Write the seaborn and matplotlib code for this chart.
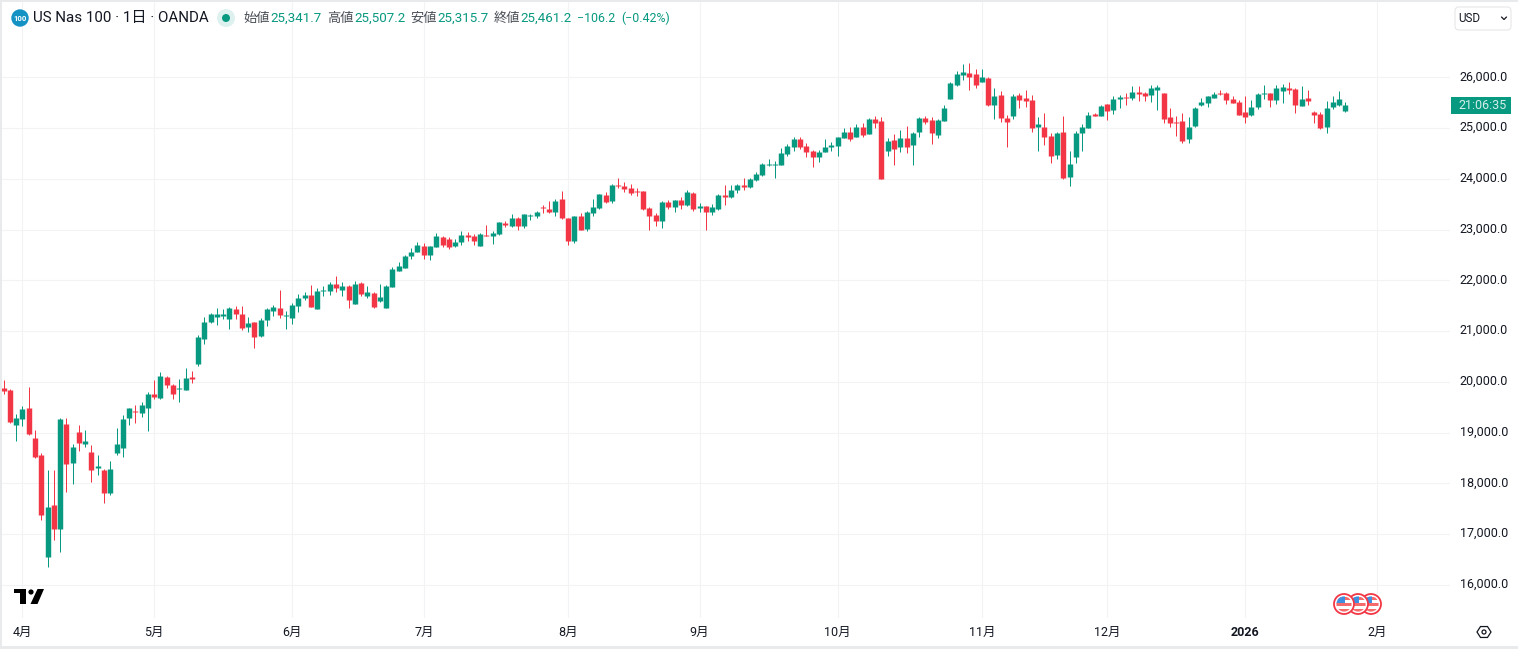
import matplotlib
matplotlib.use("Agg")
import matplotlib.pyplot as plt
from matplotlib.patches import Circle, FancyBboxPatch, Polygon, Rectangle
from matplotlib.transforms import ScaledTranslation
import numpy as np
import pandas as pd
import seaborn as sns

# candles, oldest first
opens = [
    19889, 19849, 19143, 19261, 19477, 18888, 18555, 16555, 17575, 17104,
    19163, 18398, 19006, 18771, 18614, 18300, 18261, 17810, 18594, 18692,
    19281, 19418, 19379, 19496, 19771, 19692, 20104, 19947, 19869, 19849,
    20104, 20359, 20849, 21183, 21281, 21300, 21241, 21437, 21339, 21085,
    21183, 20896, 21210, 21406, 21464, 21308, 21268, 21504, 21661, 21719,
    21445, 21798, 21798, 21935, 21817, 21896, 21543, 21955, 21700, 21759,
    21602, 21464, 21876, 22190, 22249, 22484, 22563, 22680, 22504, 22661,
    22857, 22817, 22673, 22752, 22889, 22869, 22673, 22889, 22869, 22908,
    23124, 23065, 23222, 23065, 23275, 23261, 23438, 23399, 23340, 23595,
    23222, 22771, 23261, 23007, 23320, 23418, 23673, 23556, 23869, 23850,
    23810, 23752, 23752, 23418, 23281, 23163, 23536, 23438, 23575, 23477,
    23712, 23418, 23458, 23340, 23399, 23673, 23634, 23771, 23888, 23830,
    23986, 24084, 24281, 24281, 24281, 24496, 24634, 24790, 24653, 24555,
    24437, 24535, 24634, 24653, 24810, 24928, 24830, 25026, 24888, 25183,
    25143, 24555, 24771, 24634, 24810, 24673, 24928, 25202, 25163, 24869,
    25144, 25575, 25850, 26046, 26085, 26065, 25909, 25987, 25458, 25654,
    25203, 25242, 25654, 25595, 25556, 25026, 25026, 24850, 24477, 24928,
    24046, 24438, 24909, 25007, 25281, 25242, 25477, 25360, 25575, 25614,
    25595, 25713, 25693, 25654, 25752, 25693, 25222, 25124, 25144, 24791,
    25046, 25458, 25497, 25595, 25693, 25693, 25575, 25517, 25320, 25262,
    25418, 25673, 25693, 25556, 25732, 25791, 25771, 25438, 25595, 25320,
    25281, 25026, 25418, 25458, 25341.7,
]
closes = [
    19830, 19202, 19281, 19457, 18967, 18516, 17379, 17536, 17104, 19261,
    18379, 18712, 18790, 18830, 18261, 18339, 17810, 18281, 18771, 19261,
    19477, 19398, 19536, 19771, 19712, 20124, 19947, 19771, 19889, 20085,
    20065, 20889, 21183, 21339, 21339, 21339, 21457, 21339, 21065, 21163,
    20889, 21229, 21445, 21484, 21327, 21327, 21523, 21661, 21719, 21484,
    21798, 21817, 21935, 21857, 21896, 21621, 21935, 21739, 21778, 21484,
    21680, 21896, 22229, 22288, 22484, 22563, 22700, 22504, 22680, 22876,
    22700, 22661, 22752, 22889, 22850, 22771, 22908, 22869, 22928, 23144,
    23085, 23222, 23065, 23301, 23290, 23340, 23418, 23340, 23556, 23222,
    22771, 23261, 22987, 23340, 23438, 23693, 23536, 23869, 23850, 23791,
    23712, 23732, 23399, 23261, 23163, 23536, 23438, 23575, 23477, 23732,
    23399, 23458, 23340, 23438, 23673, 23634, 23771, 23869, 23830, 24006,
    24104, 24300, 24300, 24300, 24516, 24653, 24790, 24634, 24535, 24437,
    24535, 24634, 24673, 24830, 24928, 24790, 25026, 24869, 25183, 25104,
    24006, 24751, 24594, 24810, 24634, 24908, 25202, 25124, 24908, 25163,
    25399, 25889, 26065, 26105, 26007, 25850, 26007, 25458, 25634, 25203,
    25124, 25634, 25556, 25536, 25007, 25085, 24830, 24458, 24909, 24007,
    24301, 24909, 25026, 25261, 25242, 25438, 25340, 25575, 25614, 25595,
    25713, 25673, 25634, 25791, 25811, 25183, 25105, 25105, 24752, 25026,
    25399, 25517, 25634, 25673, 25673, 25556, 25497, 25262, 25222, 25418,
    25673, 25693, 25556, 25791, 25811, 25752, 25458, 25575, 25536, 25262,
    25007, 25399, 25517, 25575, 25461.2,
]
highs = [
    20045, 19860, 19359, 19516, 19908, 19045, 18594, 18261, 18261, 19281,
    19281, 18771, 19143, 19045, 18751, 18555, 18281, 18438, 19085, 19339,
    19496, 19536, 19614, 19810, 20045, 20202, 20124, 19967, 20065, 20281,
    20222, 20928, 21281, 21359, 21457, 21437, 21477, 21496, 21496, 21281,
    21190, 21268, 21450, 21523, 21817, 21406, 21562, 21739, 21778, 21915,
    21857, 21896, 21974, 22092, 21974, 21900, 21994, 21960, 21896, 21778,
    21935, 21915, 22268, 22366, 22504, 22641, 22759, 22739, 22685, 22935,
    22876, 22857, 22810, 22967, 22948, 22908, 22928, 23085, 22967, 23150,
    23163, 23301, 23242, 23305, 23301, 23359, 23477, 23556, 23595, 23752,
    23225, 23265, 23320, 23359, 23595, 23697, 23732, 23889, 24007, 23928,
    23889, 23810, 23755, 23438, 23320, 23556, 23575, 23578, 23634, 23771,
    23732, 23516, 23460, 23497, 23693, 23869, 23869, 23908, 24026, 24026,
    24143, 24320, 24398, 24359, 24614, 24692, 24830, 24830, 24712, 24575,
    24575, 24790, 24732, 24833, 25006, 25026, 25084, 25104, 25202, 25241,
    25222, 24810, 24888, 24967, 25045, 24928, 25222, 25241, 25222, 25183,
    25458, 25909, 26124, 26261, 26281, 26163, 26163, 26007, 25791, 25732,
    25261, 25673, 25693, 25752, 25654, 25222, 25301, 24909, 24928, 25242,
    24556, 24948, 25085, 25320, 25301, 25458, 25480, 25634, 25654, 25693,
    25830, 25830, 25713, 25850, 25850, 25695, 25399, 25242, 25301, 25222,
    25418, 25595, 25637, 25713, 25752, 25713, 25634, 25556, 25634, 25556,
    25693, 25850, 25695, 25850, 25869, 25909, 25791, 25830, 25752, 25340,
    25320, 25536, 25634, 25732, 25507.2,
]
lows = [
    19771, 19190, 18830, 19124, 18947, 18496, 17281, 16359, 16889, 16653,
    17830, 17987, 18634, 18712, 18026, 18163, 17614, 17771, 18555, 18516,
    19143, 19183, 19300, 19026, 19673, 19673, 19889, 19673, 19614, 19849,
    19987, 20320, 20751, 21163, 21124, 21241, 21045, 21241, 21026, 20987,
    20673, 20890, 21092, 21308, 21268, 21033, 21131, 21386, 21621, 21484,
    21440, 21700, 21719, 21778, 21700, 21464, 21540, 21700, 21661, 21464,
    21582, 21460, 21870, 22185, 22245, 22425, 22560, 22425, 22406, 22655,
    22661, 22621, 22654, 22693, 22771, 22693, 22673, 22865, 22712, 22889,
    23046, 23060, 22987, 23026, 23183, 23222, 23320, 23320, 23261, 23203,
    22693, 22732, 22985, 22967, 23261, 23415, 23516, 23516, 23810, 23732,
    23673, 23654, 23379, 22987, 23065, 23026, 23399, 23340, 23399, 23458,
    23359, 23340, 22987, 23281, 23395, 23477, 23630, 23712, 23771, 23828,
    23967, 24065, 24261, 24026, 24278, 24457, 24555, 24594, 24437, 24241,
    24339, 24532, 24555, 24457, 24808, 24751, 24828, 24830, 24885, 25006,
    24003, 24457, 24281, 24535, 24516, 24281, 24830, 25084, 24692, 24810,
    25140, 25572, 25830, 25948, 25752, 25791, 25905, 25438, 25183, 25124,
    24634, 25183, 25399, 25418, 24928, 24556, 24673, 24320, 24399, 24004,
    23850, 24320, 24556, 25004, 25240, 25240, 25164, 25281, 25399, 25458,
    25556, 25536, 25536, 25516, 25360, 25105, 25026, 24850, 24713, 24713,
    25026, 25438, 25418, 25592, 25654, 25477, 25495, 25260, 25105, 25242,
    25379, 25575, 25418, 25477, 25497, 25673, 25301, 25435, 25458, 25105,
    24987, 24909, 25379, 25438, 25315.7,
]

# trading calendar, runs a little past the last candle for the 2月 tick
first_day = "2025-03-27"
last_day = "2026-02-02"
closed_days = ["2025-04-18", "2025-12-25", "2026-01-01"]

month_labels = ["4月", "5月", "6月", "7月", "8月", "9月", "10月", "11月", "12月", "2026", "2月"]
price_ticks = [16000, 17000, 18000, 19000, 20000, 21000, 22000, 23000, 24000, 25000, 26000]

symbol = "US Nas 100 · 1日 · OANDA"
ohlc_names = ["始値", "高値", "安値", "終値"]
ohlc_values = ["25,341.7", "25,507.2", "25,315.7", "25,461.2"]
change = "−106.2"
change_pct = "(−0.42%)"
countdown = "21:06:35"

UP = "#089981"
DOWN = "#F23645"
GRID = "#F2F3F4"
INK = "#131722"
W, H = 1518, 649

sns.set_theme(style="white")
plt.rcParams["font.family"] = ["Roboto", "Noto Sans CJK JP", "DejaVu Sans"]

days = pd.bdate_range(first_day, last_day).difference(pd.to_datetime(closed_days))
df = pd.DataFrame({"open": opens, "high": highs, "low": lows, "close": closes})
df["candle"] = np.arange(len(df))
df["side"] = np.where(df["close"] >= df["open"], "up", "down")

wicks = df.melt(id_vars=["candle", "side"], value_vars=["low", "high"], value_name="price")
bodies = df.melt(id_vars=["candle", "side"], value_vars=["open", "close"], value_name="price")

fig = plt.figure(figsize=(W / 100, H / 100), dpi=100, facecolor="white")
# pane runs from x 0 to 1450 and y 2 to 618, in image pixels
ax = fig.add_axes([0, 1 - 618 / H, 1450 / W, 616 / H])

palette = {"up": UP, "down": DOWN}
sns.lineplot(data=wicks, x="candle", y="price", hue="side", units="candle", estimator=None,
             palette=palette, legend=False, ax=ax, linewidth=0.72, solid_capstyle="butt", sort=False)
sns.lineplot(data=bodies, x="candle", y="price", hue="side", units="candle", estimator=None,
             palette=palette, legend=False, ax=ax, linewidth=3.9, solid_capstyle="butt", sort=False)

px_per_candle = 6.27
ax.set_xlim(-3.67 / px_per_candle, (1450 - 3.67) / px_per_candle)
px_per_point = 0.05077
ax.set_ylim(26000 - (618 - 77.3) / px_per_point, 26000 + (77.3 - 2) / px_per_point)

# first trading day of each month gets a tick, March is only the lead-in
month_pos = pd.Series(np.arange(len(days)), index=days).groupby([days.year, days.month]).first().values[1:]
ax.set_xticks(month_pos, month_labels)
ax.set_yticks(price_ticks, [f"{p:,.1f}" for p in price_ticks])
ax.yaxis.tick_right()
ax.tick_params(axis="both", length=0, labelsize=9, labelcolor=INK)
ax.tick_params(axis="y", pad=7)
ax.tick_params(axis="x", pad=6)
# price labels sit about 2px above their grid line position otherwise
nudge = ScaledTranslation(0, 0.02, fig.dpi_scale_trans)
for lab in ax.get_yticklabels():
    lab.set_transform(lab.get_transform() + nudge)
for lab in ax.get_xticklabels():
    if lab.get_text() == "2026":
        lab.set_fontweight("bold")
ax.grid(True, color=GRID, linewidth=0.75)
ax.set_axisbelow(True)
ax.set_xlabel("")
ax.set_ylabel("")
sns.despine(ax=ax, left=True, right=True, top=True, bottom=True)

# everything around the chart, laid out in image pixels
over = fig.add_axes([0, 0, 1, 1], facecolor="none")
over.set_xlim(0, W)
over.set_ylim(H, 0)
over.axis("off")

over.add_patch(Rectangle((0, 0), 2, H, color="#E9EAEB", lw=0))
over.add_patch(Rectangle((0, 0), W, 1.5, color="#E9EAEB", lw=0))
over.add_patch(Rectangle((0, 646), W, 3, color="#E9EAEB", lw=0))

# header
over.add_patch(Circle((20, 18), 8.7, color="#1592C4", lw=0))
over.text(20, 18.2, "100", color="white", fontsize=5.6, fontweight="bold", ha="center", va="center")
over.text(33, 18, symbol, color=INK, fontsize=10.9, va="center")
over.add_patch(Circle((226, 18), 9, color="#DDF1EE", lw=0))
over.add_patch(Circle((226, 18), 4, color=UP, lw=0))
for name, value, nx, vx in zip(ohlc_names, ohlc_values, [243, 327, 410, 494], [270, 354, 437, 520]):
    over.text(nx, 18.5, name, color="#4A4E57", fontsize=9.5, va="center")
    over.text(vx, 18.5, value, color=UP, fontsize=9.6, va="center")
over.text(577, 18.5, change, color=UP, fontsize=8.9, va="center")
over.text(621, 18.5, change_pct, color=UP, fontsize=8.9, va="center")

# currency button
over.add_patch(FancyBboxPatch((1455, 7), 56, 23, boxstyle="round,pad=0,rounding_size=4",
                              fc="white", ec="#E6E7E9", lw=0.8))
over.text(1458, 18, "USD", color=INK, fontsize=8.4, va="center")
over.plot([1501.5, 1504, 1506.5], [17, 19.5, 17], color=INK, lw=0.9)

# countdown badge on the last price
over.add_patch(Rectangle((1451, 97), 60, 17, color=UP, lw=0))
over.text(1507, 105.5, countdown, color="#D5EEE9", fontsize=9, ha="right", va="center")

# logo
over.add_patch(Polygon([(14, 589), (26, 589), (26, 604), (20, 604), (20, 593), (14, 593)], color="black", lw=0))
over.add_patch(Circle((31, 592), 2.6, color="black", lw=0))
over.add_patch(Polygon([(37.5, 589), (44, 589), (37.5, 604), (30.5, 604)], color="black", lw=0))

# event flags, right one first so the left one ends up on top
for cx in [1371, 1358, 1344]:
    over.add_patch(Circle((cx, 604), 10, fc="white", ec=DOWN, lw=1.3))
    disc = Circle((cx, 604), 7.6, fc="white", ec="none")
    over.add_patch(disc)
    for y0, hgt in [(597, 2.5), (602.5, 3.5), (608.5, 4)]:
        st = Rectangle((cx - 9, y0), 18, hgt, color="#F56A6A", lw=0)
        over.add_patch(st)
        st.set_clip_path(disc)
    can = Rectangle((cx - 8, 596), 9, 7, color="#3F8FE0", lw=0)
    over.add_patch(can)
    can.set_clip_path(disc)

# settings icon
ang = np.deg2rad(np.arange(0, 360, 60))
over.add_patch(Polygon(np.c_[1484 + 7 * np.cos(ang), 632 + 6.3 * np.sin(ang)], fc="none", ec=INK, lw=0.9))
over.add_patch(Circle((1484, 632), 2, fc="none", ec=INK, lw=0.9))

fig.savefig("out.png", dpi=100)
